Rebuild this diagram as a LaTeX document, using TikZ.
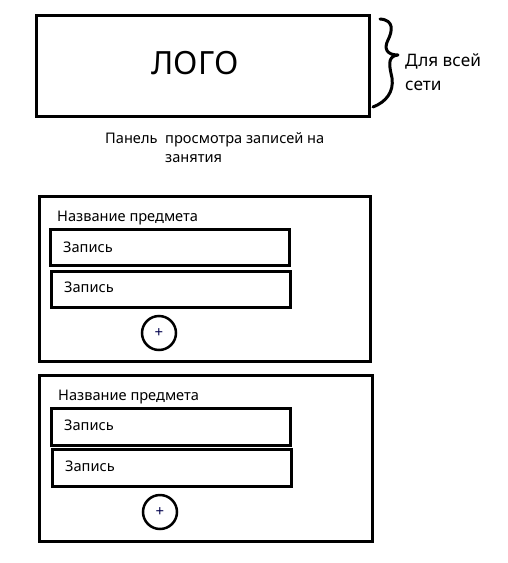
\documentclass[tikz,border=0pt]{standalone}
\usepackage{fontspec}
\setmainfont{Noto Sans}
\begin{document}
\begin{tikzpicture}[x=1pt,y=-1pt,
  frame/.style={draw=black,line width=3pt},
  rec/.style={draw=black,line width=3pt},
  lbl/.style={anchor=base west,inner sep=0pt,font=\fontsize{14.6}{19}\selectfont},
  plus/.style={circle,draw=black,line width=2.5pt,minimum size=34pt,inner sep=0pt,font=\fontsize{15}{16}\selectfont,text=black!70!blue}]
\useasboundingbox (0,0) rectangle (508,563);
% logo
\draw[frame] (36,15) rectangle (369,116);
\node[inner sep=0pt,font=\fontsize{32}{36}\selectfont] (logo) at (195,63) {ЛОГО};
\draw[line width=3pt,line cap=round,line join=round] (380,19) .. controls (395,20) and (392,32) .. (388,40)
  .. controls (384,48) and (386,55) .. (398,55)
  .. controls (386,56) and (390,68) .. (392,78)
  .. controls (394,92) and (386,102) .. (373,107);
\node[lbl,font=\fontsize{17.2}{24}\selectfont] (net1) at (405,66) {Для всей};
\node[lbl,font=\fontsize{17.2}{24}\selectfont] (net2) at (405,90) {сети};
\node[lbl] (p1) at (105,143) {Панель};
\node[lbl] (p2) at (165,143) {просмотра записей на};
\node[lbl] (p3) at (165,162) {занятия};
% panel 1
\draw[frame] (39,196) rectangle (370,361);
\node[lbl] (t1) at (57,221) {Название предмета};
\draw[rec] (50,229) rectangle (289,265);
\node[lbl] (r11) at (63,252) {Запись};
\draw[rec] (51,271) rectangle (290,307);
\node[lbl] (r12) at (64,292) {Запись};
\node[plus] (c1) at (159,333) {+};
% panel 2
\draw[frame] (39,375) rectangle (372,541);
\node[lbl] (t2) at (58,400) {Название предмета};
\draw[rec] (51,408) rectangle (290,445);
\node[lbl] (r21) at (64,430) {Запись};
\draw[rec] (52,449) rectangle (291,486);
\node[lbl] (r22) at (65,471) {Запись};
\node[plus] (c2) at (160,512) {+};
\end{tikzpicture}
\end{document}
